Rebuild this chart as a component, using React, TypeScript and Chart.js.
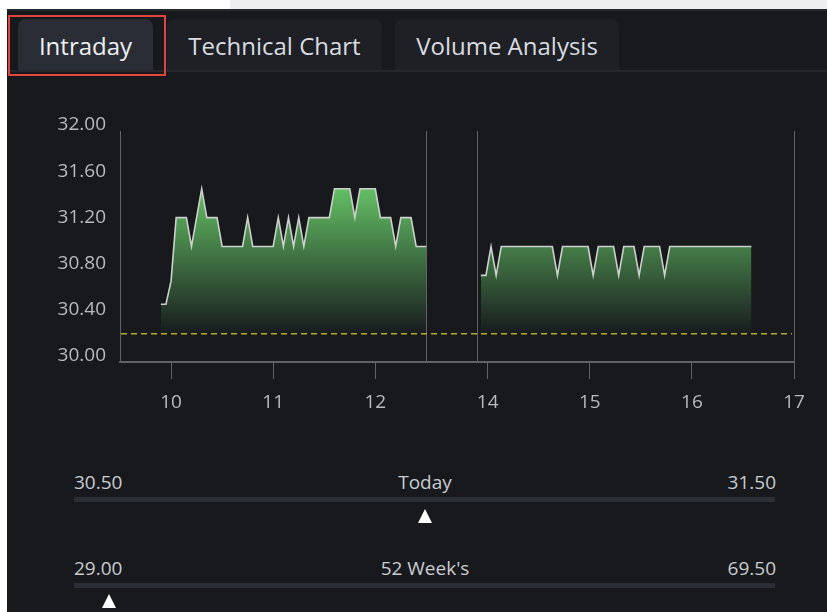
import React, { useEffect, useRef } from "react";
import { Chart, registerables } from "chart.js";

Chart.register(...registerables);

// ---- data ----
const TABS = ["Intraday", "Technical Chart", "Volume Analysis"];
const Y_TICKS = [30.0, 30.4, 30.8, 31.2, 31.6, 32.0];
const X_TICK_HOURS = [10, 11, 12, 14, 15, 16, 17];
const PREV_CLOSE = 30.25;
const STEP_MIN = 3;
const MORNING_START = "09:54";
const AFTERNOON_START = "13:56";
const SESSION_MARKS = ["12:30", "13:54"];
const LUNCH_SHIFT_H = 0.9; // afternoon hours are drawn 0.9h earlier (lunch break compressed)
const AXIS_START = "09:30";
const AXIS_END = "17:00";

const MORNING_PRICES = [
  30.5, 30.5, 30.7, 31.25, 31.25, 31.25, 31.0, 31.25, 31.5, 31.25,
  31.25, 31.25, 31.0, 31.0, 31.0, 31.0, 31.0, 31.25, 31.0, 31.0,
  31.0, 31.0, 31.0, 31.25, 31.0, 31.25, 31.0, 31.25, 31.0, 31.25,
  31.25, 31.25, 31.25, 31.25, 31.5, 31.5, 31.5, 31.5, 31.25, 31.5,
  31.5, 31.5, 31.5, 31.25, 31.25, 31.25, 31.0, 31.25, 31.25, 31.25,
  31.0, 31.0, 31.0,
];

const AFTERNOON_PRICES = [
  30.75, 30.75, 31.0, 30.75, 31.0, 31.0, 31.0, 31.0, 31.0, 31.0,
  31.0, 31.0, 31.0, 31.0, 31.0, 30.75, 31.0, 31.0, 31.0, 31.0,
  31.0, 31.0, 30.75, 31.0, 31.0, 31.0, 31.0, 30.75, 31.0, 31.0,
  31.0, 30.75, 31.0, 31.0, 31.0, 31.0, 30.75, 31.0, 31.0, 31.0,
  31.0, 31.0, 31.0, 31.0, 31.0, 31.0, 31.0, 31.0, 31.0, 31.0,
  31.0, 31.0, 31.0, 31.0,
];

const TODAY_LOW = 30.5;
const TODAY_HIGH = 31.5;
const WEEK_LOW = 29.0;
const WEEK_HIGH = 69.5;
const LAST_PRICE = 31.0;

// ---- helpers ----
const toHours = (hhmm: string) => {
  const [h, m] = hhmm.split(":").map(Number);
  return h + m / 60;
};
const toAxis = (h: number) => (h >= 13 ? h - LUNCH_SHIFT_H : h);
const session = (start: string, prices: number[]) =>
  prices.map((p, i) => ({ x: toAxis(toHours(start) + (i * STEP_MIN) / 60), y: p }));

const GRID = "#5f6268";
const TICK_TEXT = "#b7bac0";
const FONT = '"Open Sans", sans-serif';

function fillGradient(ctx: any) {
  const chart = ctx.chart;
  const { chartArea, scales } = chart;
  if (!chartArea) return "rgba(100,200,100,0.5)";
  const y0 = scales.y.getPixelForValue(31.6);
  const y1 = scales.y.getPixelForValue(PREV_CLOSE);
  const g = chart.ctx.createLinearGradient(0, y0, 0, y1);
  g.addColorStop(0, "rgba(106,204,106,1)");
  g.addColorStop(1, "rgba(106,204,106,0.02)");
  return g;
}

const overlayPlugin = {
  id: "overlay",
  beforeDatasetsDraw(chart: any) {
    const { ctx, chartArea, scales } = chart;
    ctx.save();
    ctx.strokeStyle = GRID;
    ctx.lineWidth = 1;
    const xs = [...SESSION_MARKS.map((s) => toAxis(toHours(s))), toAxis(toHours(AXIS_END))];
    xs.forEach((v) => {
      const px = Math.round(scales.x.getPixelForValue(v)) + 0.5;
      ctx.beginPath();
      ctx.moveTo(px, chartArea.top);
      ctx.lineTo(px, chartArea.bottom);
      ctx.stroke();
    });
    ctx.restore();
  },
  afterDatasetsDraw(chart: any) {
    const { ctx, chartArea, scales } = chart;
    const py = Math.round(scales.y.getPixelForValue(PREV_CLOSE));
    ctx.save();
    ctx.fillStyle = "#b8ab2e";
    const x0 = chartArea.left + 1;
    const x1 = chartArea.right - 2;
    for (let x = x0; x < x1; x += 10) {
      ctx.fillRect(x, py, Math.min(6, x1 - x), 1.5);
    }
    ctx.restore();
  },
};

const TAB_POS = [
  { left: 18, width: 135 },
  { left: 167, width: 215 },
  { left: 395, width: 224 },
];

function RangeRow({ top, low, high, label, value, markerTop }: any) {
  const left = 74;
  const width = 701;
  const frac = (value - low) / (high - low);
  const mx = left + frac * width;
  const text: React.CSSProperties = {
    position: "absolute",
    top,
    fontSize: 19,
    lineHeight: "24px",
    color: "#c9ccd1",
  };
  return (
    <>
      <div style={{ ...text, left: 74 }}>{low.toFixed(2)}</div>
      <div style={{ ...text, left: 0, width: 850, textAlign: "center" }}>{label}</div>
      <div style={{ ...text, right: 827 - 776 }}>{high.toFixed(2)}</div>
      <div
        style={{
          position: "absolute",
          left,
          top: top + 27,
          width,
          height: 5,
          background: "#2b2e35",
        }}
      />
      <div
        style={{
          position: "absolute",
          left: mx - 7,
          top: markerTop,
          width: 0,
          height: 0,
          borderLeft: "7px solid transparent",
          borderRight: "7px solid transparent",
          borderBottom: "14px solid #ffffff",
        }}
      />
    </>
  );
}

export default function App() {
  const ref = useRef<HTMLCanvasElement>(null);

  useEffect(() => {
    document.body.style.margin = "0";
    const canvas = ref.current!;
    const chart = new Chart(canvas, {
      type: "line",
      data: {
        datasets: [
          {
            data: session(MORNING_START, MORNING_PRICES),
            borderColor: "#ccd0cc",
            borderWidth: 1.6,
            pointRadius: 0,
            tension: 0,
            fill: { value: PREV_CLOSE },
            backgroundColor: fillGradient,
          },
          {
            data: session(AFTERNOON_START, AFTERNOON_PRICES),
            borderColor: "#ccd0cc",
            borderWidth: 1.6,
            pointRadius: 0,
            tension: 0,
            fill: { value: PREV_CLOSE },
            backgroundColor: fillGradient,
          },
        ],
      },
      options: {
        responsive: false,
        animation: false,
        devicePixelRatio: 1,
        layout: { padding: { top: 31, right: 26, left: 0, bottom: 0 } },
        plugins: { legend: { display: false }, tooltip: { enabled: false } },
        scales: {
          x: {
            type: "linear",
            min: toHours(AXIS_START),
            max: toAxis(toHours(AXIS_END)),
            afterBuildTicks: (scale: any) => {
              scale.ticks = X_TICK_HOURS.map((h) => ({ value: toAxis(h) }));
            },
            afterFit: (scale: any) => {
              scale.height = 68;
            },
            ticks: {
              callback: (_v: any, i: number) => String(X_TICK_HOURS[i]),
              color: TICK_TEXT,
              font: { family: FONT, size: 19 },
              padding: 12,
              maxRotation: 0,
              autoSkip: false,
            },
            grid: {
              drawOnChartArea: false,
              drawTicks: true,
              tickLength: 17,
              color: GRID,
            },
            border: { display: true, color: GRID, width: 2 },
          },
          y: {
            type: "linear",
            min: 30,
            max: 32,
            afterBuildTicks: (scale: any) => {
              scale.ticks = Y_TICKS.map((v) => ({ value: v }));
            },
            afterFit: (scale: any) => {
              scale.width = 80;
            },
            ticks: {
              callback: (v: any) => Number(v).toFixed(2),
              color: TICK_TEXT,
              font: { family: FONT, size: 19 },
              padding: 14,
              labelOffset: -6,
            },
            grid: { display: false, drawTicks: false },
            border: { display: true, color: GRID, width: 1 },
          },
        },
      },
      plugins: [overlayPlugin],
    } as any);
    return () => chart.destroy();
  }, []);

  return (
    <div
      style={{
        position: "absolute",
        left: 0,
        top: 0,
        width: 827,
        height: 612,
        background: "#ffffff",
        overflow: "hidden",
        fontFamily: FONT,
      }}
    >
      <div style={{ position: "absolute", left: 230, top: 0, right: 0, height: 9, background: "#eeedf0" }} />
      <div
        style={{
          position: "absolute",
          left: 7,
          top: 9,
          right: 0,
          bottom: 0,
          background: "#17191d",
          borderTop: "2px solid #26282c",
        }}
      />
      {TABS.map((t, i) => (
        <div
          key={t}
          style={{
            position: "absolute",
            left: TAB_POS[i].left,
            top: 19,
            width: TAB_POS[i].width,
            height: 51,
            background: i === 0 ? "#2a2d35" : "#1e2025",
            borderRadius: "8px 8px 0 0",
            color: i === 0 ? "#eef0f3" : "#d9dce1",
            fontSize: 24,
            lineHeight: "53px",
            textAlign: "center",
          }}
        >
          {t}
        </div>
      ))}
      <div style={{ position: "absolute", left: 7, right: 0, top: 70, height: 2, background: "#25272c" }} />
      <div
        style={{
          position: "absolute",
          left: 8,
          top: 15,
          width: 158,
          height: 61,
          border: "2.5px solid #e0453e",
          boxSizing: "border-box",
        }}
      />
      <canvas
        ref={ref}
        width={780}
        height={330}
        style={{ position: "absolute", left: 40, top: 100, width: 780, height: 330 }}
      />
      <RangeRow top={470} low={TODAY_LOW} high={TODAY_HIGH} label="Today" value={LAST_PRICE} markerTop={509} />
      <RangeRow top={556} low={WEEK_LOW} high={WEEK_HIGH} label="52 Week's" value={LAST_PRICE} markerTop={594} />
    </div>
  );
}
